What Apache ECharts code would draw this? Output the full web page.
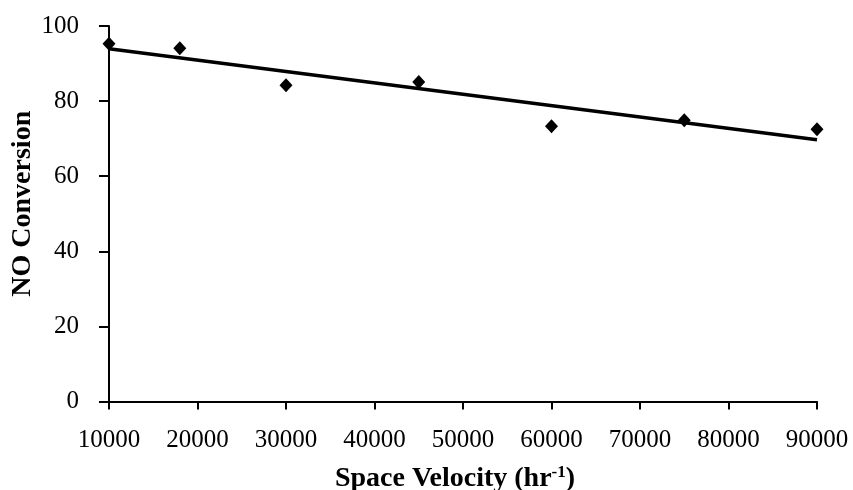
<!DOCTYPE html>
<html>
<head>
<meta charset="utf-8">
<style>
  html, body { margin: 0; padding: 0; background: #fff; }
  #chart { width: 853px; height: 490px; }
</style>
<script src="https://cdn.jsdelivr.net/npm/echarts@6/dist/echarts.min.js"></script>
</head>
<body>
<div id="chart"></div>
<script>
// Measured NO conversion (%) at each space velocity (hr^-1)
const velocity = [10000, 18000, 30000, 45000, 60000, 75000, 90000];
const conversion = [95.3, 94.1, 84.2, 85.1, 73.3, 74.9, 72.5];

// Axis ranges and tick spacing
const xTicks = { min: 10000, max: 90000, step: 10000 };
const yTicks = { min: 0, max: 100, step: 20 };

// Least-squares linear trend through the measurements
function linearFit(xs, ys) {
  const n = xs.length;
  const mx = xs.reduce((a, b) => a + b, 0) / n;
  const my = ys.reduce((a, b) => a + b, 0) / n;
  let sxy = 0, sxx = 0;
  for (let i = 0; i < n; i++) {
    sxy += (xs[i] - mx) * (ys[i] - my);
    sxx += (xs[i] - mx) * (xs[i] - mx);
  }
  const slope = sxy / sxx;
  return x => my + slope * (x - mx);
}
const trend = linearFit(velocity, conversion);
const xFirst = velocity[0], xLast = velocity[velocity.length - 1];
const trendLine = [[xFirst, trend(xFirst)], [xLast, trend(xLast)]];

const points = velocity.map((v, i) => [v, conversion[i]]);

const serif = 'Liberation Serif';
const chart = echarts.init(document.getElementById('chart'), null, { renderer: 'canvas' });

chart.setOption({
  animation: false,
  backgroundColor: '#ffffff',
  grid: {
    left: 109, right: 36, top: 26, bottom: 88.5,
    containLabel: false,
    outerBoundsMode: 'none'
  },
  xAxis: {
    type: 'value',
    min: xTicks.min, max: xTicks.max, interval: xTicks.step,
    name: '{t|Space Velocity (hr}{s|-1}{t|)}',
    nameLocation: 'middle',
    nameGap: 63,
    nameMoveOverlap: false,
    nameTextStyle: {
      padding: [0, 16, 0, 0],
      rich: {
        t: { fontFamily: serif, fontSize: 28, fontWeight: 'bold', color: '#000', verticalAlign: 'bottom' },
        s: { fontFamily: serif, fontSize: 17, fontWeight: 'bold', color: '#000', verticalAlign: 'top' }
      }
    },
    axisLine: { show: true, onZero: false, lineStyle: { color: '#000', width: 2 } },
    axisTick: { show: true, inside: false, length: 8, lineStyle: { color: '#000', width: 2 } },
    axisLabel: {
      fontFamily: serif, fontSize: 25, color: '#000', margin: 26,
      formatter: v => String(v)
    },
    splitLine: { show: false }
  },
  yAxis: {
    type: 'value',
    min: yTicks.min, max: yTicks.max, interval: yTicks.step,
    name: 'NO Conversion',
    nameLocation: 'middle',
    nameGap: 72,
    nameMoveOverlap: false,
    nameTextStyle: {
      fontFamily: serif, fontSize: 28, fontWeight: 'bold', color: '#000',
      padding: [0, 0, 0, 20]
    },
    axisLine: { show: true, lineStyle: { color: '#000', width: 2 } },
    axisTick: { show: true, inside: false, length: 10, lineStyle: { color: '#000', width: 2 } },
    axisLabel: { fontFamily: serif, fontSize: 25, color: '#000', margin: 30 },
    splitLine: { show: false }
  },
  series: [
    {
      name: 'Trend',
      type: 'line',
      data: trendLine,
      showSymbol: false,
      symbol: 'none',
      lineStyle: { color: '#000', width: 3.5 },
      z: 2,
      silent: true
    },
    {
      name: 'NO Conversion',
      type: 'scatter',
      data: points,
      symbol: 'diamond',
      symbolSize: [13, 14],
      itemStyle: { color: '#000', opacity: 1 },
      z: 3
    }
  ]
});
</script>
</body>
</html>
